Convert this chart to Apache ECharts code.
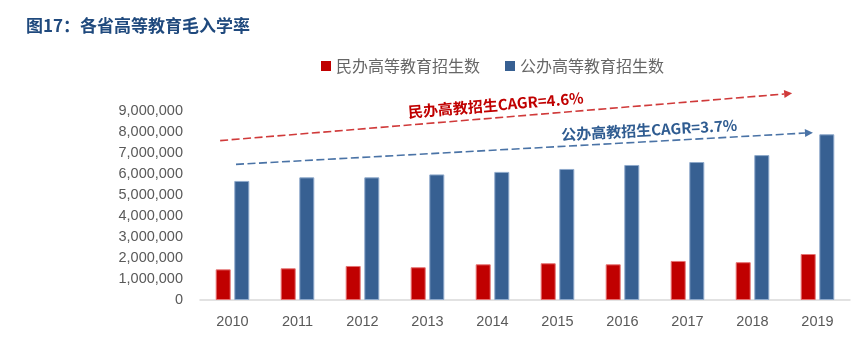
<!DOCTYPE html>
<html>
<head>
<meta charset="utf-8">
<script src="https://cdn.jsdelivr.net/npm/echarts@6/dist/echarts.min.js"></script>
<style>
html,body{margin:0;padding:0;background:#fff;}
#c{width:860px;height:337px;}
</style>
</head>
<body>
<div id="c"></div>
<script>
const titleText = '图17：各省高等教育毛入学率';
const categories = ['2010','2011','2012','2013','2014','2015','2016','2017','2018','2019'];
const seriesNames = ['民办高等教育招生数','公办高等教育招生数'];
const privateValues = [1460000,1510000,1620000,1560000,1700000,1750000,1700000,1860000,1800000,2190000];
const publicValues = [5670000,5840000,5840000,5980000,6100000,6240000,6430000,6570000,6900000,7890000];
const yTicks = [0,1000000,2000000,3000000,4000000,5000000,6000000,7000000,8000000,9000000];
// annotation anchors in data space: [category index, value]
const redArrow = {from:[-0.19,7590000], to:[8.61,9840000], label:[4.05,9290000], text:'民办高教招生CAGR=4.6%'};
const blueArrow = {from:[0.054,6460000], to:[8.93,7970000], label:[6.41,8100000], text:'公办高教招生CAGR=3.7%'};

const RED = '#C00000', BLUE = '#376092';
const chart = echarts.init(document.getElementById('c'), null, {renderer:'canvas'});
chart.setOption({
  animation:false,
  backgroundColor:'#fff',
  title:{text:titleText,left:21,top:12,textStyle:{fontFamily:'Noto Sans CJK SC',fontWeight:'bold',fontSize:17,color:'#1F497D'}},
  legend:{left:316,top:53,itemWidth:10,itemHeight:10,itemGap:25,icon:'rect',
    itemStyle:{borderWidth:0},
    textStyle:{fontFamily:'Noto Sans CJK SC',fontSize:16,color:'#666666'},
    data:seriesNames},
  grid:{left:200,right:10,top:111,bottom:37,containLabel:false},
  xAxis:{type:'category',data:categories,
    axisLine:{lineStyle:{color:'#D9D9D9',width:1.5}},axisTick:{show:false},
    axisLabel:{fontFamily:'Liberation Sans',fontSize:14.5,color:'#595959',margin:14}},
  yAxis:{type:'value',min:yTicks[0],max:yTicks[yTicks.length-1],interval:yTicks[1]-yTicks[0],
    splitLine:{show:false},axisLine:{show:false},axisTick:{show:false},
    axisLabel:{fontFamily:'Liberation Sans',fontSize:14.5,color:'#595959',margin:17,
      formatter:v=>v.toLocaleString('en-US')}},
  series:[
    {name:seriesNames[0],type:'bar',data:privateValues,barWidth:15,barGap:'24%',
      itemStyle:{color:RED,borderColor:'#E57373',borderWidth:1}},
    {name:seriesNames[1],type:'bar',data:publicValues,barWidth:15,
      itemStyle:{color:BLUE,borderColor:'#8EA9CB',borderWidth:1}}
  ]
});

function px(pt){
  const c0 = chart.convertToPixel({xAxisIndex:0}, categories[0]);
  const c1 = chart.convertToPixel({xAxisIndex:0}, categories[1]);
  return [c0 + pt[0]*(c1-c0), chart.convertToPixel({yAxisIndex:0}, pt[1])];
}
function arrowGraphics(a, lineColor, textColor){
  const p1 = px(a.from), p2 = px(a.to), lp = px(a.label);
  const dx = p2[0]-p1[0], dy = p2[1]-p1[1], len = Math.hypot(dx,dy);
  const ux = dx/len, uy = dy/len, nx = -uy, ny = ux;
  const hl = 8, hw = 4;
  const bx = p2[0]-ux*hl, by = p2[1]-uy*hl;
  const ang = Math.atan2(-dy, dx);
  return [
    {type:'line',shape:{x1:p1[0],y1:p1[1],x2:bx,y2:by},style:{stroke:lineColor,lineWidth:1.6,lineDash:[8,3.5]},silent:true},
    {type:'polygon',shape:{points:[[p2[0],p2[1]],[bx+nx*hw,by+ny*hw],[bx-nx*hw,by-ny*hw]]},style:{fill:lineColor},silent:true},
    {type:'text',x:lp[0],y:lp[1],rotation:ang,originX:0,originY:0,
      style:{text:a.text,align:'center',verticalAlign:'middle',fill:textColor,
        font:'bold 15px "Noto Sans CJK SC"'},silent:true}
  ];
}
chart.setOption({graphic:{elements:[].concat(
  arrowGraphics(redArrow,'#D03A3A',RED),
  arrowGraphics(blueArrow,'#4A73A6','#2F5C91')
)}});
</script>
</body>
</html>
